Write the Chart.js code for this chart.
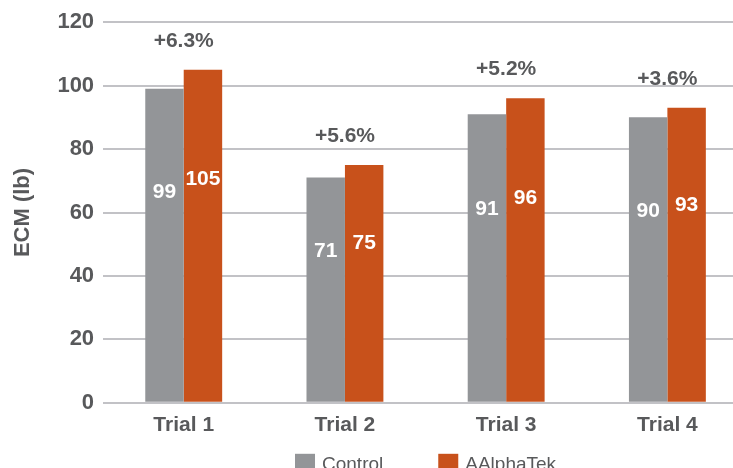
<!DOCTYPE html>
<html>
<head>
<meta charset="utf-8">
<script src="https://cdn.jsdelivr.net/npm/chart.js@4.4.0/dist/chart.umd.min.js"></script>
<style>
  html, body { margin: 0; padding: 0; overflow: hidden; background: #fff; }
</style>
</head>
<body>
<canvas id="ecm-chart" width="760" height="490"></canvas>
<script>
// data
const trials = ['Trial 1', 'Trial 2', 'Trial 3', 'Trial 4'];
const controlValues = [99, 71, 91, 90];
const aalphaValues = [105, 75, 96, 93];
const changeLabels = ['+6.3%', '+5.6%', '+5.2%', '+3.6%'];

const FONT = '"Liberation Sans", Arial, Helvetica, sans-serif';
const TEXT = '#58595b';

// white numbers inside the bars + percentage above each pair
const barLabels = {
    id: 'barLabels',
    afterDatasetsDraw(chart) {
        const ctx = chart.ctx;
        ctx.save();
        ctx.textAlign = 'center';
        ctx.textBaseline = 'middle';
        ctx.font = 'bold 21px ' + FONT;
        ctx.fillStyle = '#ffffff';
        chart.data.datasets.forEach((ds, di) => {
            chart.getDatasetMeta(di).data.forEach((bar, i) => {
                const y = bar.y + (bar.base - bar.y) * 0.33;
                ctx.fillText(ds.data[i], bar.x, y);
            });
        });

        ctx.font = 'bold 21px ' + FONT;
        ctx.fillStyle = TEXT;
        const xScale = chart.scales.x;
        changeLabels.forEach((txt, i) => {
            const top = Math.min(chart.getDatasetMeta(0).data[i].y, chart.getDatasetMeta(1).data[i].y);
            ctx.fillText(txt, xScale.getPixelForValue(i), top - 29);
        });
        ctx.restore();
    }
};

// legend drawn by hand so the item gap can be wide without a tall legend box
const bottomLegend = {
    id: 'bottomLegend',
    afterDraw(chart) {
        const ctx = chart.ctx;
        const area = chart.chartArea;
        const box = 20, gap = 7, itemGap = 55;
        ctx.save();
        ctx.font = '19px ' + FONT;
        ctx.textBaseline = 'middle';
        ctx.textAlign = 'left';
        const items = chart.data.datasets.map(ds => ({
            text: ds.label, color: ds.backgroundColor, w: ctx.measureText(ds.label).width
        }));
        const total = items.reduce((s, it) => s + box + gap + it.w, 0) + itemGap * (items.length - 1);
        let x = (area.left + area.right) / 2 - total / 2;
        const top = area.bottom + 51;
        items.forEach(it => {
            ctx.fillStyle = it.color;
            ctx.fillRect(x, top, box, box);
            ctx.fillStyle = TEXT;
            ctx.fillText(it.text, x + box + gap, top + box / 2 + 1);
            x += box + gap + it.w + itemGap;
        });
        ctx.restore();
    }
};

new Chart(document.getElementById('ecm-chart').getContext('2d'), {
    type: 'bar',
    data: {
        labels: trials,
        datasets: [{
            label: 'Control',
            data: controlValues,
            backgroundColor: '#939598',
            categoryPercentage: 0.477,
            barPercentage: 1.0
        }, {
            label: 'AAlphaTek',
            data: aalphaValues,
            backgroundColor: '#c8511b',
            categoryPercentage: 0.477,
            barPercentage: 1.0
        }]
    },
    options: {
        responsive: false,
        animation: false,
        devicePixelRatio: 1,
        layout: { padding: { top: 12, right: 12, left: 0, bottom: 42 } },
        plugins: {
            legend: { display: false },
            tooltip: { enabled: false }
        },
        scales: {
            x: {
                grid: { display: false, drawTicks: false },
                border: { display: false },
                ticks: {
                    color: TEXT,
                    padding: 10,
                    font: { family: FONT, size: 21, weight: 'bold' }
                }
            },
            y: {
                min: 0,
                max: 120,
                border: { display: false },
                grid: { color: '#c2c2c6', lineWidth: 2, drawTicks: false },
                ticks: {
                    stepSize: 20,
                    padding: 9,
                    color: TEXT,
                    font: { family: FONT, size: 22, weight: 'bold' }
                },
                title: {
                    display: true,
                    text: 'ECM (lb)',
                    color: TEXT,
                    padding: { top: 10, bottom: 12 },
                    font: { family: FONT, size: 22, weight: 'bold' }
                }
            }
        }
    },
    plugins: [barLabels, bottomLegend]
});
</script>
</body>
</html>
